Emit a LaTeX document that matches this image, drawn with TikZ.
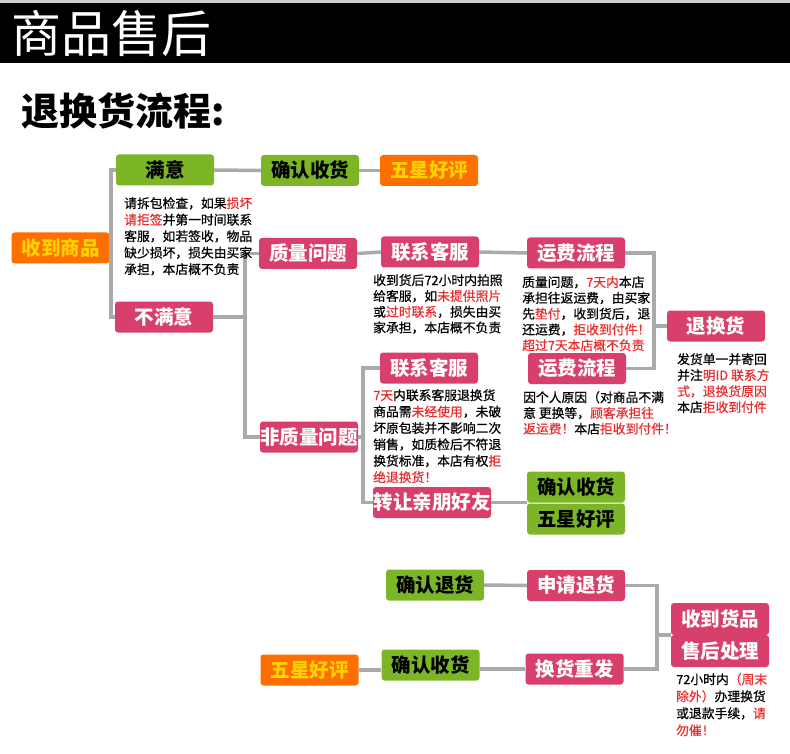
\documentclass[tikz,border=0pt]{standalone}
\usepackage{fontspec}
\setmainfont{Noto Sans CJK SC}
\newfontfamily\notefont[FakeBold=0.6]{Noto Sans CJK SC}
\usetikzlibrary{calc,positioning}

\definecolor{boxgreen}{HTML}{7CB627}
\definecolor{boxpink}{HTML}{D8406B}
\definecolor{boxorange}{HTML}{FF6F00}
\definecolor{boxyellow}{HTML}{FFD200}
\definecolor{txred}{HTML}{E62E2E}
\definecolor{linegray}{HTML}{AAAAAA}

\begin{document}
\begin{tikzpicture}[x=1pt, y=-1pt,
	box/.style={rounded corners=3pt, minimum width=98pt, minimum height=31pt, inner sep=0pt, font=\fontsize{19.5}{20}\selectfont\bfseries},
	greenbox/.style={box, fill=boxgreen, text=black},
	pinkbox/.style={box, fill=boxpink, text=white},
	orangebox/.style={box, fill=boxorange, text=boxyellow},
	note/.style={anchor=north west, inner sep=0pt, align=left},
	link/.style={draw=linegray, line width=3.5pt}]
					\useasboundingbox (0, 0) rectangle (790, 754);
					\fill[black!20] (0, 0) rectangle (790, 3);
					\fill[black] (0, 3) rectangle (790, 63);
					\node[anchor=west, inner sep=0pt, text=white, font=\fontsize{50}{50}\selectfont] at (11, 33) (title) {商品售后};
					\node[anchor=west, inner sep=0pt, font=\fontsize{38}{38}\selectfont\bfseries] at (21, 111) (subtitle) {退换货流程:};

					% upper flow
					\node[orangebox] at (60.5, 248) (shou) {收到商品};
					\node[greenbox] at (165, 170) (manyi) {满意};
					\node[greenbox] at (310, 170.5) (qr1) {确认收货};
					\node[orangebox] at (429, 170.5) (wx1) {五星好评};
					\node[pinkbox] at (164, 317) (bmy) {不满意};
					\node[pinkbox] at (308, 253.5) (zlwt) {质量问题};
					\node[pinkbox] at (430, 252) (lx1) {联系客服};
					\node[pinkbox] at (576, 253) (yf1) {运费流程};
					\node[pinkbox] at (716, 326) (thh) {退换货};
					\node[pinkbox] at (309, 437) (fzl) {非质量问题};
					\node[pinkbox] at (429, 368) (lx2) {联系客服};
					\node[pinkbox] at (577, 368.5) (yf2) {运费流程};
					\node[pinkbox, minimum width=118pt] at (432, 502.5) (zr) {转让亲朋好友};
					\node[greenbox] at (576, 487) (qr2) {确认收货};
					\node[greenbox] at (576, 519) (wx2) {五星好评};

					\coordinate (j1) at (111, 248);
					\coordinate (j2) at (245, 317);
					\coordinate (j3) at (654, 326);
					\coordinate (j4) at (363, 437);
					\draw[link] (shou.east) -- (j1);
					\draw[link] (manyi.west) -| (j1) |- (bmy.west);
					\draw[link] (manyi.east) -- (qr1.west);
					\draw[link] (qr1.east) -- (wx1.west);
					\draw[link] (bmy.east) -- (j2);
					\draw[link] (zlwt.west) -| (j2) |- (fzl.west);
					\draw[link] (zlwt.east) -- (lx1.west);
					\draw[link] (lx1.east) -- (yf1.west);
					\draw[link] (yf1.east) -| (j3) |- (yf2.east);
					\draw[link] (j3) -- (thh.west);
					\draw[link] (fzl.east) -- (j4);
					\draw[link] (lx2.west) -| (j4) |- (zr.west);
					\draw[link] (zr.east) -- (zr.east -| qr2.west);

					\node[note, font=\notefont\fontsize{12.8}{16.5}\selectfont] at (124, 197) (noteA) {请拆包检查，如果\textcolor{txred}{损坏}\\\textcolor{txred}{请拒签}并第一时间联系\\客服，如若签收，物品\\缺少损坏，损失由买家\\承担，本店概不负责};
					\node[note, font=\notefont\fontsize{12.8}{15.8}\selectfont] at (373, 274) (noteB) {收到货后72小时内拍照\\给客服，如\textcolor{txred}{未提供照片}\\或\textcolor{txred}{过时联系}，损失由买\\家承担，本店概不负责};
					\node[note, font=\notefont\fontsize{12.8}{15.8}\selectfont] at (522, 276) (noteC) {质量问题，\textcolor{txred}{7天内}本店\\承担往返运费，由买家\\先\textcolor{txred}{垫付}，收到货后，退\\还运费，\textcolor{txred}{拒收到付件！}\\\textcolor{txred}{超过7天本店概不负责}};
					\node[note, font=\notefont\fontsize{12.8}{16.4}\selectfont] at (373, 389) (noteD) {\textcolor{txred}{7天}内联系客服退换货\\商品需\textcolor{txred}{未经使用}，未破\\坏原包装并不影响二次\\销售，如质检后不符退\\换货标准，本店有权\textcolor{txred}{拒}\\\textcolor{txred}{绝退换货！}};
					\node[note, font=\notefont\fontsize{12.8}{15.7}\selectfont] at (523, 391) (noteE) {因个人原因（对商品不满\\意 更换等，\textcolor{txred}{顾客承担往}\\\textcolor{txred}{返运费！}本店\textcolor{txred}{拒收到付件！}};
					\node[note, font=\notefont\fontsize{12.8}{16}\selectfont] at (677, 353) (noteF) {发货单一并寄回\\并注\textcolor{txred}{明ID 联系方}\\\textcolor{txred}{式，退换货原因}\\本店\textcolor{txred}{拒收到付件}};

					% lower flow
					\node[greenbox] at (435, 585) (qrth) {确认退货};
					\node[pinkbox] at (576, 585.5) (sqth) {申请退货};
					\node[pinkbox, minimum height=32pt] at (720, 619) (sh1) {收到货品};
					\node[pinkbox, minimum height=32pt] at (720, 651) (sh2) {售后处理};
					\node[orangebox] at (309.5, 670) (wx3) {五星好评};
					\node[greenbox] at (430.5, 665) (qr3) {确认收货};
					\node[pinkbox] at (574.5, 669) (hh) {换货重发};

					\coordinate (j5) at (657, 635);
					\draw[link] (qrth.east) -- (sqth.west);
					\draw[link] (sqth.east) -| (j5) |- (hh.east);
					\draw[link] (j5) -- (j5 -| sh1.west);
					\draw[link] (hh.west) -- (hh.west -| qr3.east);
					\draw[link] (qr3.west |- wx3.east) -- (wx3.east);

					\node[note, font=\notefont\fontsize{12.8}{17}\selectfont] at (676, 673) (noteG) {72小时内\textcolor{txred}{（周末}\\\textcolor{txred}{除外）}办理换货\\或退款手续，\textcolor{txred}{请}\\\textcolor{txred}{勿催！}};
				\end{tikzpicture}
\end{document}
